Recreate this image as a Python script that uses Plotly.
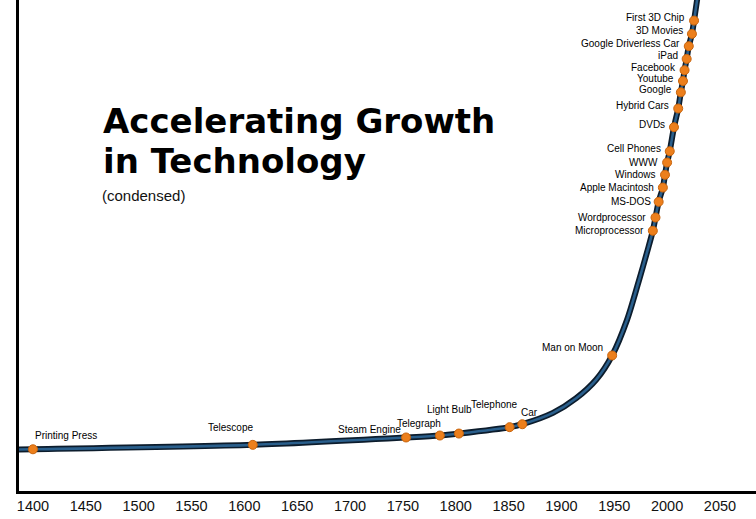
import plotly.graph_objects as go

# ---- data ----
events = ["Printing Press", "Telescope", "Steam Engine", "Telegraph", "Light Bulb",
          "Telephone", "Car", "Man on Moon", "Microprocessor", "Wordprocessor",
          "MS-DOS", "Apple Macintosh", "Windows", "WWW", "Cell Phones", "DVDs",
          "Hybrid Cars", "Google", "Youtube", "Facebook", "iPad",
          "Google Driverless Car", "3D Movies", "First 3D Chip"]
event_years = [1400, 1608, 1753, 1785, 1803, 1851, 1863, 1948, 1986.5, 1989,
               1992, 1996, 1998, 2000, 2002.5, 2006.5, 2010.5, 2013, 2015, 2016.5,
               2018.5, 2020.5, 2023.5, 2025.5]
event_levels = [8.5, 9.4, 10.9, 11.3, 11.7, 13.0, 13.6, 27.6, 53.0, 55.7,
                58.9, 61.8, 64.4, 66.9, 69.2, 74.1, 77.9, 81.2, 83.5, 85.7,
                88.0, 90.6, 93.1, 95.8]

curve_years = [1386.8, 1400, 1608, 1753, 1785, 1803, 1851, 1863, 1892, 1914, 1933,
               1948, 1962, 1973, 1982, 1986.5, 1989, 1992, 1996, 1998, 2000, 2002.5,
               2006.5, 2010.5, 2013, 2015, 2016.5, 2018.5, 2020.5, 2023.5, 2025.5, 2029.7]
curve_levels = [8.45, 8.5, 9.4, 10.9, 11.3, 11.7, 13.0, 13.6, 15.9, 18.9, 22.7,
                27.6, 34.8, 42.6, 49.4, 53.0, 55.7, 58.9, 61.8, 64.4, 66.9, 69.2,
                74.1, 77.9, 81.2, 83.5, 85.7, 88.0, 90.6, 93.1, 95.8, 102]

tick_years = [1400, 1450, 1500, 1550, 1600, 1650, 1700, 1750, 1800, 1850, 1900, 1950, 2000, 2050]
tick_labels = [str(t) for t in tick_years]

title_lines = ["Accelerating Growth", "in Technology"]
subtitle = "(condensed)"

# ---- label placement (layout only) ----
label_place = {
    "Printing Press": ("left", 0, 14),
    "Telescope": ("right", 2, 17),
    "Steam Engine": ("right", -3, 8),
    "Telegraph": ("right", 3, 12),
    "Light Bulb": ("center", -9, 24),
    "Telephone": ("right", 10, 23),
    "Car": ("left", -3, 12),
    "Man on Moon": ("right", -7, 8),
    "WWW": ("right", -7, 0),
    "Windows": ("right", -7, 0),
    "Apple Macintosh": ("right", -7, 0),
    "MS-DOS": ("right", -6, 0),
    "Wordprocessor": ("right", -7, 0),
    "Microprocessor": ("right", -7, 0),
}
default_place = ("right", -7, 3)

label_font = dict(family="Liberation Sans, Arial, sans-serif", size=10, color="#000000")

W, H = 756, 519
ML, MR, MT, MB = 19, 0, 0, 28
PW, PH = W - ML - MR, H - MT - MB


def px_x(p):
    return (p - ML) / PW


def px_y(p):
    return (H - MB - p) / PH


fig = go.Figure()
fig.add_trace(go.Scatter(x=curve_years, y=curve_levels, mode="lines",
                         line=dict(color="#0c1c2c", width=6, shape="spline", smoothing=0.8),
                         hoverinfo="skip", showlegend=False))
fig.add_trace(go.Scatter(x=curve_years, y=curve_levels, mode="lines",
                         line=dict(color="#2a5f8c", width=2.6, shape="spline", smoothing=0.8),
                         hoverinfo="skip", showlegend=False))
fig.add_trace(go.Scatter(x=event_years, y=event_levels, mode="markers",
                         marker=dict(color="#ec7f1c", size=9,
                                     line=dict(color="#c8650e", width=1)),
                         text=events, hoverinfo="text", showlegend=False))

annotations = []
for name, yr, lv in zip(events, event_years, event_levels):
    anchor, dx, dy = label_place.get(name, default_place)
    annotations.append(dict(x=yr, y=lv, xref="x", yref="y", text=name, showarrow=False,
                            xanchor=anchor, yanchor="middle", xshift=dx, yshift=dy,
                            font=label_font))

title_font = dict(family="DejaVu Sans, sans-serif", size=34, color="#000000", weight="bold")
for line, cy in zip(title_lines, [121, 161]):
    annotations.append(dict(xref="paper", yref="paper", x=px_x(101), y=px_y(cy),
                            xanchor="left", yanchor="middle", align="left", showarrow=False,
                            text=line, font=title_font))
annotations.append(dict(xref="paper", yref="paper", x=px_x(100), y=px_y(195),
                        xanchor="left", yanchor="middle", align="left", showarrow=False,
                        text=subtitle,
                        font=dict(family="Liberation Sans, Arial, sans-serif",
                                  size=15, color="#111111")))

fig.update_layout(
    width=W, height=H,
    margin=dict(l=ML, r=MR, t=MT, b=MB),
    paper_bgcolor="white", plot_bgcolor="white",
    annotations=annotations,
    xaxis=dict(range=[1386.8, 2084.1], tickvals=tick_years, ticktext=tick_labels,
               showgrid=False, zeroline=False, showline=True, linecolor="#000000",
               linewidth=3, ticks="", automargin=False,
               tickfont=dict(family="Liberation Sans, Arial, sans-serif",
                             size=14.5, color="#111111")),
    yaxis=dict(range=[0, 100], showticklabels=False, showgrid=False, zeroline=False,
               showline=True, linecolor="#000000", linewidth=2.5, ticks="", automargin=False),
)

fig.write_html("out.html", config={"displayModeBar": False},
               post_script="document.body.style.margin='0';")
